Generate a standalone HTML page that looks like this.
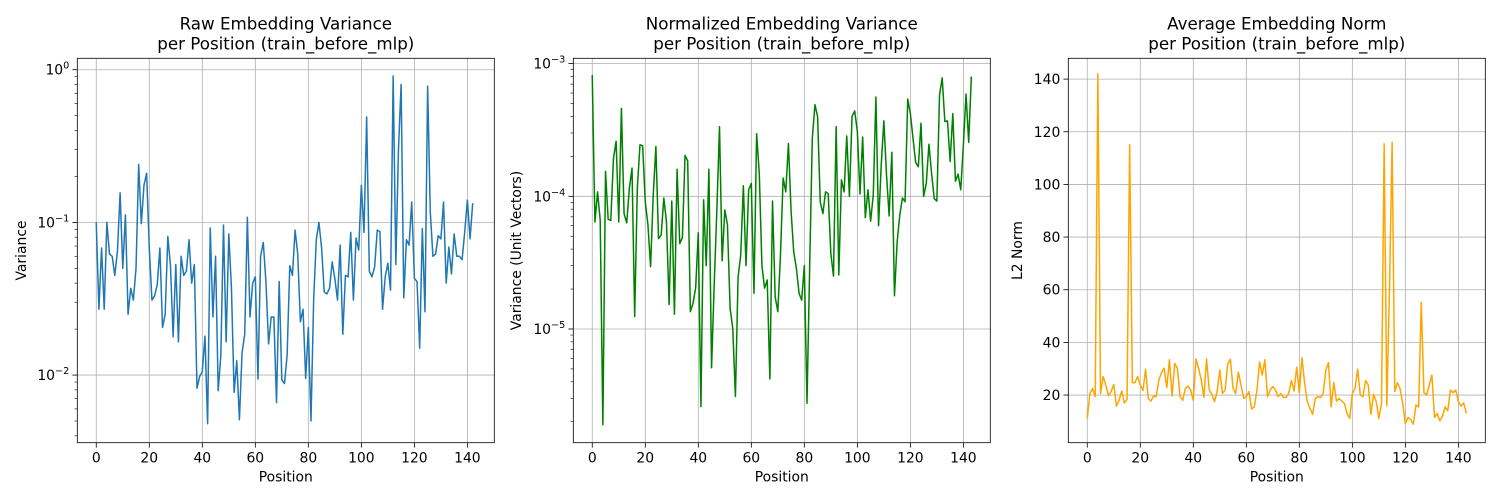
<!DOCTYPE html>
<html><head><meta charset="utf-8"><style>
html,body{margin:0;padding:0;background:#fff;}
svg{display:block;font-family:"DejaVu Sans","Liberation Sans",sans-serif;}
</style></head><body>
<svg id="fig" width="1500" height="500" viewBox="0 0 1500 500" xmlns="http://www.w3.org/2000/svg"></svg>
<script>
// ---- data ----
const rawVariance = [0.10,0.027,0.068,0.027,0.10,0.062,0.060,0.045,0.065,0.156,0.050,0.112,0.025,0.037,0.031,0.050,0.24,0.098,0.175,0.21,0.068,0.031,0.033,0.039,0.068,0.0205,0.025,0.081,0.052,0.0178,0.053,0.0165,0.060,0.045,0.048,0.077,0.040,0.053,0.0082,0.0098,0.0105,0.018,0.0048,0.092,0.024,0.060,0.0079,0.0135,0.096,0.0165,0.084,0.037,0.0077,0.0124,0.0051,0.014,0.0185,0.108,0.024,0.040,0.044,0.0094,0.060,0.074,0.041,0.016,0.024,0.024,0.0066,0.041,0.0093,0.0088,0.0135,0.052,0.045,0.089,0.062,0.0223,0.027,0.0095,0.0205,0.005,0.031,0.077,0.10,0.068,0.035,0.034,0.037,0.055,0.043,0.031,0.071,0.0185,0.045,0.044,0.086,0.031,0.079,0.066,0.175,0.086,0.49,0.048,0.044,0.051,0.089,0.087,0.027,0.044,0.054,0.036,0.91,0.053,0.3,0.80,0.032,0.077,0.071,0.136,0.043,0.041,0.015,0.091,0.026,0.78,0.117,0.060,0.062,0.082,0.078,0.136,0.040,0.069,0.046,0.084,0.060,0.060,0.057,0.087,0.14,0.078,0.134];
const normVariance = [8.2e-4,6.4e-5,1.08e-4,6.6e-5,1.9e-6,1.54e-4,6.7e-5,6.6e-5,1.93e-4,2.6e-4,6.4e-5,4.6e-4,7.4e-5,6.3e-5,1.15e-4,1.63e-4,1.24e-5,1.15e-4,2.44e-4,2.4e-4,9.1e-5,6.1e-5,2.95e-5,1.02e-4,2.37e-4,4.8e-5,5.1e-5,9.7e-5,6.4e-5,1.53e-5,9.2e-5,1.29e-5,1.6e-4,4.4e-5,4.9e-5,2.03e-4,1.85e-4,1.35e-5,1.56e-5,2.03e-5,5.3e-5,2.6e-6,9.4e-5,3.0e-5,1.6e-4,5.1e-6,2.15e-5,7.9e-5,3.35e-4,3.26e-5,7.9e-5,6.1e-5,1.43e-5,1.01e-5,3.1e-6,2.44e-5,3.6e-5,1.2e-4,3.0e-5,1.12e-4,1.25e-4,1.86e-5,2.96e-4,1.49e-4,3.0e-5,2.03e-5,2.34e-5,4.2e-6,9.2e-5,1.75e-5,1.35e-5,3.6e-5,1.37e-4,1.08e-4,2.5e-4,7.7e-5,3.8e-5,2.86e-5,1.86e-5,1.65e-5,3.0e-5,2.75e-6,2.86e-5,2.73e-4,4.9e-4,4.0e-4,9.1e-5,7.4e-5,1.08e-4,1.05e-4,3.7e-5,2.5e-5,3.35e-4,2.55e-5,1.33e-4,1.08e-4,2.85e-4,1.0e-4,4.0e-4,4.4e-4,3.07e-4,1.04e-4,2.8e-4,6.9e-5,1.12e-4,6.5e-5,1.02e-4,5.6e-4,6.0e-5,1.72e-4,3.7e-4,1.45e-4,7.1e-5,2.15e-4,1.78e-5,4.5e-5,7.2e-5,9.7e-5,9.1e-5,5.4e-4,4.2e-4,2.73e-4,1.8e-4,1.67e-4,3.55e-4,1.0e-4,1.25e-4,2.47e-4,1.49e-4,9.6e-5,9.2e-5,5.8e-4,7.8e-4,3.66e-4,3.7e-4,1.83e-4,4.2e-4,1.3e-4,1.47e-4,1.12e-4,2.44e-4,5.9e-4,2.55e-4,8.0e-4];
const avgNorm = [11.1,20.6,22.5,19.4,142,20.6,27,23.8,19.7,21.3,24,15.8,18,21.5,17,18.3,115,24.7,24.7,27,23.8,21.7,29.8,18.7,17.7,19.6,19.4,25.7,28.5,30.2,22.8,33.4,19.6,32,30.2,19.4,18,22.5,23.4,21.9,18,33.7,30.2,25.7,19.1,33.7,21.9,20.3,17.5,21.3,29.5,20.6,21.9,31.8,33.6,22.5,20.6,28.7,23.8,18.7,19.4,21.3,14.7,15.5,21.7,32.6,27.6,33.4,19.4,21.9,23.2,21.9,19.4,20.6,19.1,19.1,20.6,25.5,21.5,30.6,20.9,34.2,24.5,17.5,14.9,12.7,18.7,19.4,19.1,20.6,29.5,32.3,15.5,24.7,17.7,18.7,17.7,16.8,13,11.1,20.6,22.5,29.8,20,19.4,25.5,23.8,12.7,20.3,17.5,11.1,16.8,115.4,15.9,60,116,21.3,24.7,22.5,16.8,9.2,11.5,10.7,8.9,16.2,15.5,55.2,20.9,20,23.8,27.6,11.5,13,10.2,12,15.5,14,21.9,20.9,21.9,17.5,15.8,17,13];
const xTicks = [0,20,40,60,80,100,120,140];
const normTicks = [20,40,60,80,100,120,140];
const titles = [["Raw Embedding Variance","per Position (train_before_mlp)"],["Normalized Embedding Variance","per Position (train_before_mlp)"],["Average Embedding Norm","per Position (train_before_mlp)"]];

const NS="http://www.w3.org/2000/svg";
const svg=document.getElementById('fig');
function mk(tag,attrs,parent){const e=document.createElementNS(NS,tag);for(const k in attrs)e.setAttribute(k,attrs[k]);(parent||svg).appendChild(e);return e;}

const TOP=58.3,BOT=442.7,W=417;
const xmin=-7.15,xmax=150.15;

function panel(idx,left,data,color,yScaleType,ymin,ymax,ylabel,ylabelX,majorTicks){
  const g=mk('g',{});
  
  
  const right=left+W;
  const X=v=>left+(v-xmin)/(xmax-xmin)*W;
  const Y=yScaleType==='log'
    ? v=>BOT-(Math.log10(v)-ymin)/(ymax-ymin)*(BOT-TOP)
    : v=>BOT-(v-ymin)/(ymax-ymin)*(BOT-TOP);
  // grid
  const grid=mk('g',{stroke:'#b0b0b0','stroke-width':0.8},g);
  
  
  xTicks.forEach(t=>mk('line',{x1:X(t),x2:X(t),y1:TOP,y2:BOT},grid));
  majorTicks.forEach(t=>mk('line',{x1:left,x2:right,y1:Y(t),y2:Y(t)},grid));
  // line
  const pts=data.map((v,i)=>X(i).toFixed(2)+','+Y(v).toFixed(2)).join(' ');
  const pl=mk('polyline',{points:pts,fill:'none',stroke:color,'stroke-width':1.5,'stroke-linejoin':'round'},g);
  
  
  // frame
  const fr=mk('rect',{x:left,y:TOP,width:W,height:BOT-TOP,fill:'none',stroke:'#000','stroke-width':0.8},g);
  
  
  // x ticks
  xTicks.forEach(t=>{
    mk('line',{x1:X(t),x2:X(t),y1:BOT,y2:BOT+4.9,stroke:'#000','stroke-width':0.8},g);
    const tx=mk('text',{x:X(t),y:462.5,'font-size':13.9,'text-anchor':'middle',fill:'#000'},g);
    tx.textContent=t;
    
    
  });
  const xl=mk('text',{x:(left+right)/2,y:481.5,'font-size':13.9,'text-anchor':'middle'},g);
  xl.textContent='Position';
  
  
  // y ticks
  majorTicks.forEach(t=>{
    const y=Y(t);
    mk('line',{x1:left-4.9,x2:left,y1:y,y2:y,stroke:'#000','stroke-width':0.8},g);
    const tx=mk('text',{x:left-8,y:y+5,'font-size':13.9,'text-anchor':'end'},g);
    
    
    if(yScaleType==='log'){
      const e=Math.round(Math.log10(t));
      const s1=mk('tspan',{},tx);s1.textContent='10';
      const s2=mk('tspan',{dy:-6,'font-size':9.7},tx);s2.textContent=(e<0?'\u2212'+(-e):''+e);
    } else tx.textContent=t;
  });
  if(yScaleType==='log'){
    for(let d=Math.floor(ymin);d<=Math.ceil(ymax);d++){
      for(let m=2;m<=9;m++){
        const lv=d+Math.log10(m);
        if(lv<ymin||lv>ymax)continue;
        const y=Y(Math.pow(10,lv));
        mk('line',{x1:left-2.8,x2:left,y1:y,y2:y,stroke:'#000','stroke-width':0.6},g);
      }
    }
  }
  const yl=mk('text',{x:ylabelX,y:250.5,'font-size':13.9,'text-anchor':'middle',transform:`rotate(-90 ${ylabelX} 250.5)`},g);
  yl.textContent=ylabel;
  
  
  // title
  titles[idx].forEach((line,k)=>{
    const t=mk('text',{x:(left+right)/2,y:29.5+k*20,'font-size':16.7,'text-anchor':'middle'},g);
    t.textContent=line;
    
    
  });
}
panel(0,77.3,rawVariance,'#1f77b4','log',-2.443,0.075,'Variance',26,[0.01,0.1,1]);
panel(1,573.3,normVariance,'#008000','log',-5.857,-2.96,'Variance (Unit Vectors)',521,[1e-5,1e-4,1e-3]);
panel(2,1068.3,avgNorm,'#ffa500','lin',1.9,147.9,'L2 Norm',1022,normTicks);
</script>
</body></html>
